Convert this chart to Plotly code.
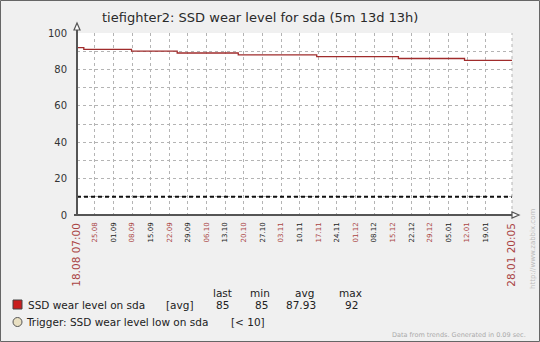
import plotly.graph_objects as go

# ---- data -------------------------------------------------------------
range_start = "2015-08-18 07:00"
range_end = "2016-01-28 20:05"

# times at which the wear level changed (step series, held until next change)
step_times = [
    "2015-08-18 07:00", "2015-08-20 20:25", "2015-09-07 19:00",
    "2015-09-24 23:00", "2015-10-17 22:00", "2015-11-16 10:00",
    "2015-12-17 03:00", "2016-01-10 23:45", "2016-01-28 20:05",
]
wear_levels = [92, 91, 90, 89, 88, 87, 86, 85, 85]

trigger_threshold = 10

week_ticks = [
    "2015-08-25", "2015-09-01", "2015-09-08", "2015-09-15", "2015-09-22",
    "2015-09-29", "2015-10-06", "2015-10-13", "2015-10-20", "2015-10-27",
    "2015-11-03", "2015-11-10", "2015-11-17", "2015-11-24", "2015-12-01",
    "2015-12-08", "2015-12-15", "2015-12-22", "2015-12-29", "2016-01-05",
    "2016-01-12", "2016-01-19",
]
week_labels = [
    "25.08", "01.09", "08.09", "15.09", "22.09", "29.09", "06.10", "13.10",
    "20.10", "27.10", "03.11", "10.11", "17.11", "24.11", "01.12", "08.12",
    "15.12", "22.12", "29.12", "05.01", "12.01", "19.01",
]
edge_labels = ["18.08 07:00", "28.01 20:05"]

y_tick_vals = [0, 10, 20, 30, 40, 50, 60, 70, 80, 90, 100]
y_tick_text = ["0", "", "20", "", "40", "", "60", "", "80", "", "100"]

stat_headers = ["last", "min", "avg", "max"]
stat_values = ["85", "85", "87.93", "92"]

# ---- geometry helpers (pixel -> paper) -------------------------------
W, H = 540, 342
L, R, T, B = 77, 512, 33, 215


def px(x):
    return (x - L) / (R - L)


def py(y):
    return (B - y) / (B - T)


FONT = "DejaVu Sans"
RED_LABEL = "#aa4444"
AXIS = "#555555"
GRID = "#b4b4b4"

fig = go.Figure()

fig.add_trace(go.Scatter(
    x=step_times, y=wear_levels, mode="lines",
    line=dict(shape="hv", color="#a02c2c", width=1.3),
    hoverinfo="skip", showlegend=False,
))

fig.add_trace(go.Scatter(
    x=[range_start, range_end], y=[trigger_threshold, trigger_threshold],
    mode="lines", xaxis="x2",
    line=dict(color="#111111", width=2, dash="4px,3px"),
    hoverinfo="skip", showlegend=False,
))

week_text = [
    f'<span style="color:{RED_LABEL}">{t}</span>' if i % 2 == 0 else t
    for i, t in enumerate(week_labels)
]

fig.update_layout(
    width=W, height=H, autosize=False,
    margin=dict(l=L, r=W - R, t=T, b=H - B, pad=0),
    paper_bgcolor="#f0f0f0", plot_bgcolor="#ffffff",
    font=dict(family=FONT, color="#222222"),
    xaxis=dict(
        type="date", range=[range_start, range_end],
        tickmode="array", tickvals=week_ticks, ticktext=week_text,
        tickangle=-90, tickfont=dict(size=7, color="#222222"),
        showgrid=True, gridcolor=GRID, griddash="dot", gridwidth=1,
        zeroline=False, showline=False, ticks="", ticklabelstandoff=5,
    ),
    xaxis2=dict(
        type="date", range=[range_start, range_end], overlaying="x",
        anchor="y", side="bottom",
        tickmode="array", tickvals=[range_start, range_end],
        ticktext=edge_labels, tickangle=-90,
        tickfont=dict(size=10.5, color=RED_LABEL),
        showgrid=False, zeroline=False, showline=False, ticks="",
        ticklabelstandoff=5,
    ),
    yaxis=dict(
        range=[0, 100], tickmode="array", tickvals=y_tick_vals,
        ticktext=y_tick_text, tickfont=dict(size=10, color="#333333"),
        showgrid=True, gridcolor=GRID, griddash="dot", gridwidth=1,
        zeroline=False, showline=False, ticks="", ticklabelstandoff=9,
    ),
)

shapes = []
# right edge grid line
shapes.append(dict(type="line", xref="paper", yref="paper", x0=1, x1=1,
                   y0=0, y1=1, line=dict(color=GRID, width=1, dash="dot")))
# axes with arrow heads
shapes.append(dict(type="line", xref="paper", yref="paper", x0=px(74), x1=px(516),
                   y0=0, y1=0, line=dict(color=AXIS, width=2)))
shapes.append(dict(type="line", xref="paper", yref="paper", x0=0, x1=0,
                   y0=0, y1=py(28), line=dict(color=AXIS, width=2)))
shapes.append(dict(type="path", xref="paper", yref="paper",
                   path=f"M {px(77)} {py(23)} L {px(74)} {py(30)} L {px(80)} {py(30)} Z",
                   line=dict(color=AXIS, width=1.2), fillcolor="#ffffff"))
shapes.append(dict(type="path", xref="paper", yref="paper",
                   path=f"M {px(519)} {py(215)} L {px(512)} {py(212)} L {px(512)} {py(218)} Z",
                   line=dict(color=AXIS, width=1.2), fillcolor="#ffffff"))
# legend markers
shapes.append(dict(type="rect", xref="paper", yref="paper",
                   x0=px(13), x1=px(22), y0=py(309), y1=py(300),
                   fillcolor="#c81e1e", line=dict(color="#444444", width=1)))
shapes.append(dict(type="circle", xref="paper", yref="paper",
                   x0=px(13), x1=px(22), y0=py(326.5), y1=py(317.5),
                   fillcolor="#e9e0c2", line=dict(color="#555555", width=1)))
# outer frame
shapes.append(dict(type="rect", xref="paper", yref="paper",
                   x0=px(0.5), x1=px(539.5), y0=py(341.5), y1=py(0.5),
                   line=dict(color="#666666", width=1)))
fig.update_layout(shapes=shapes)

ann = []


def text(x, y, s, size=10, anchor="left", color="#222222", angle=0):
    ann.append(dict(xref="paper", yref="paper", x=px(x), y=py(y), text=s,
                    showarrow=False, xanchor=anchor, yanchor="middle",
                    textangle=angle, borderpad=0,
                    font=dict(family=FONT, size=size, color=color)))


text(260, 17, "tiefighter2: SSD wear level for sda (5m 13d 13h)", size=13,
     anchor="center", color="#2a2a2a")

text(27, 305, "SSD wear level on sda", size=10.5)
text(165, 305, "[avg]", size=10.5)
header_left = [212, 249, 294, 338]
value_right = [230, 269, 317, 359]
for hx, h in zip(header_left, stat_headers):
    text(hx, 293, h, size=10.5)
for vx, v in zip(value_right, stat_values):
    text(vx, 305, v, size=10.5, anchor="right")

text(25, 322, "Trigger: SSD wear level low on sda", size=10.5)
text(230, 322, f"[< {trigger_threshold}]", size=10.5)

text(527, 335, "Data from trends. Generated in 0.09 sec.", size=6.5,
     anchor="right", color="#aaaaaa")
text(533, 249, "http://www.zabbix.com", size=7, anchor="center",
     color="#bbbbbb", angle=-90)

fig.update_layout(annotations=ann)

fig.write_html("out.html")
